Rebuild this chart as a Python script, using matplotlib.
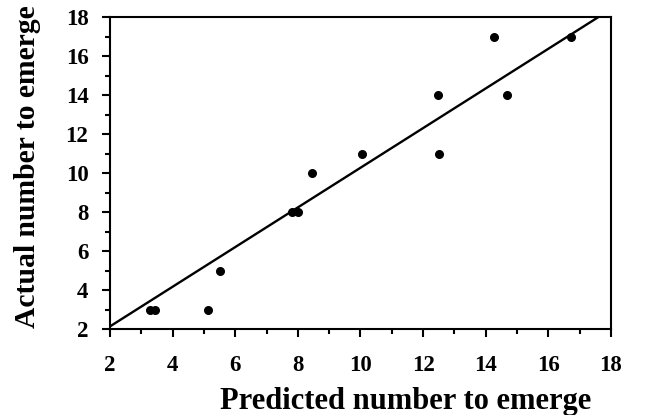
import numpy as np
import matplotlib
matplotlib.use("Agg")
import matplotlib.pyplot as plt
from matplotlib.ticker import MultipleLocator

# predicted vs actual number to emerge
predicted = [3.27, 3.43, 5.14, 5.52, 7.80, 8.01, 8.45, 10.05, 12.46, 12.52, 14.25, 14.69, 16.73]
actual = [3, 3, 3, 5, 8, 8, 10, 11, 14, 11, 17, 14, 17]

# fitted line
slope = 1.017
intercept = 0.10

plt.rcParams['font.family'] = ['Liberation Serif', 'DejaVu Serif']
plt.rcParams['font.weight'] = 'bold'

fig = plt.figure(figsize=(6.72, 4.15), dpi=100)
ax = fig.add_axes([0.1637, 0.2072, 0.9092 - 0.1637, 0.959 - 0.2072])

ax.scatter(predicted, actual, s=30, color='black', zorder=3, clip_on=False)

xs = np.array([2, 18])
ax.plot(xs, intercept + slope * xs, color='black', lw=1.7)

ax.set_xlim(2, 18)
ax.set_ylim(2, 18)
ax.xaxis.set_major_locator(MultipleLocator(2))
ax.xaxis.set_minor_locator(MultipleLocator(1))
ax.yaxis.set_major_locator(MultipleLocator(2))
ax.yaxis.set_minor_locator(MultipleLocator(1))

for s in ax.spines.values():
    s.set_linewidth(1.5)

ax.tick_params(which='major', length=6, width=1.5, labelsize=16.5, direction='out')
ax.tick_params(which='minor', length=3.5, width=1.5, direction='out')
ax.tick_params(axis='x', which='major', pad=12.5)
ax.tick_params(axis='y', which='major', pad=9.5)
for lab in ax.get_xticklabels() + ax.get_yticklabels():
    lab.set_fontweight('bold')

ax.set_xlabel('Predicted number to emerge', fontsize=22, fontweight='bold')
ax.set_ylabel('Actual number to emerge', fontsize=21.3, fontweight='bold')
ax.xaxis.set_label_coords(0.59, -0.187)
ax.yaxis.set_label_coords(-0.137, 0.522)

fig.savefig('out.png', dpi=100)
